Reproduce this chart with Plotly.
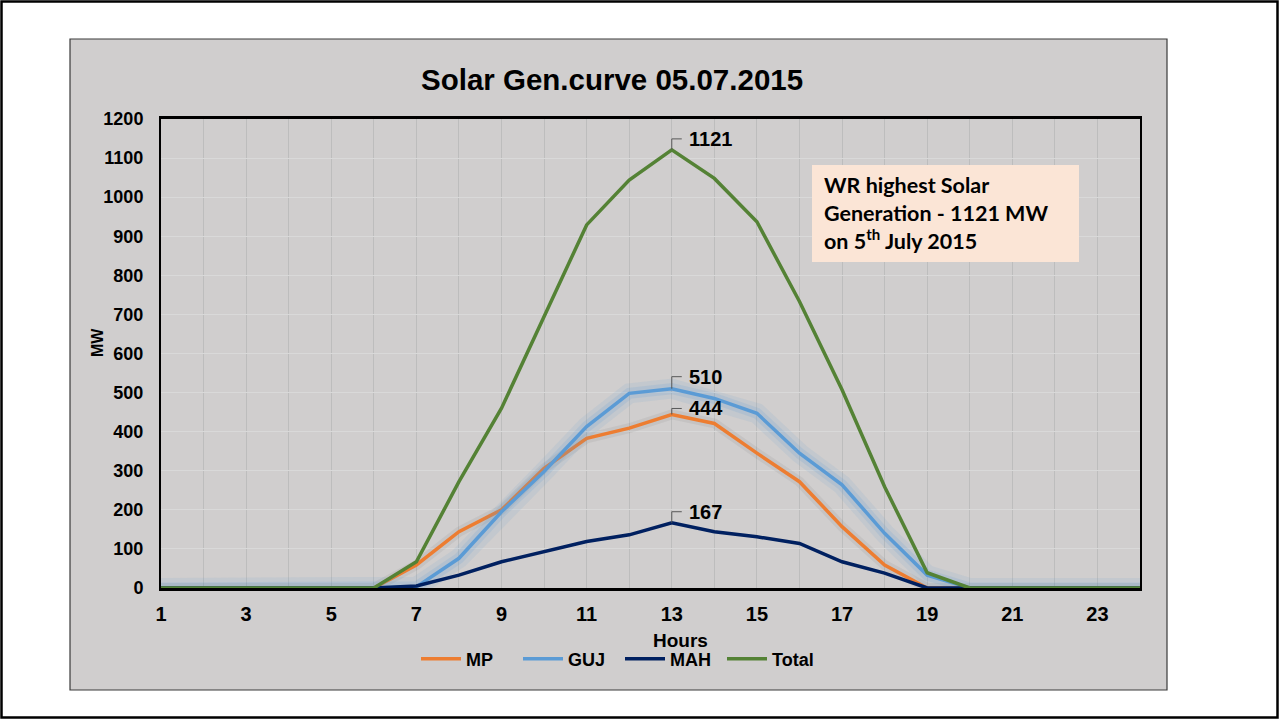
import plotly.graph_objects as go

hours = list(range(1, 25))
mp    = [0, 0, 0, 0, 0, 0, 59, 144, 200, 306, 383, 409, 444, 421, 345, 272, 157, 59, 0, 0, 0, 0, 0, 0]
guj   = [0, 0, 0, 0, 0, 0, 3, 76, 195, 298, 413, 498, 510, 485, 447, 345, 264, 140, 33, 0, 0, 0, 0, 0]
mah   = [0, 0, 0, 0, 0, 0, 5, 33, 67, 93, 119, 136, 167, 144, 131, 114, 67, 38, 0, 0, 0, 0, 0, 0]
total = [0, 0, 0, 0, 0, 0, 67, 272, 460, 694, 929, 1044, 1121, 1048, 937, 733, 507, 259, 39, 0, 0, 0, 0, 0]

x_ticks = [1, 3, 5, 7, 9, 11, 13, 15, 17, 19, 21, 23]
y_ticks = list(range(0, 1201, 100))

W, H = 1279, 719
L, R, T, B = 161, 1140, 119, 588


def px(xp):
    return (xp - L) / (R - L)


def py(yp):
    return (B - yp) / (B - T)


C_MP, C_GUJ, C_MAH, C_TOT = "#ED7D31", "#5B9BD5", "#002060", "#548235"
FONT = "Liberation Sans, Arial"

fig = go.Figure()
# MP soft shadow + line
fig.add_trace(go.Scatter(x=hours, y=mp, mode="lines", line=dict(color="rgba(0,0,0,0.05)", width=10),
                         showlegend=False, hoverinfo="skip"))
fig.add_trace(go.Scatter(x=hours, y=mp, name="MP", mode="lines", line=dict(color=C_MP, width=3.5)))
# GUJ glow + line
fig.add_trace(go.Scatter(x=hours, y=guj, mode="lines", line=dict(color="rgba(91,155,213,0.11)", width=20),
                         showlegend=False, hoverinfo="skip"))
fig.add_trace(go.Scatter(x=hours, y=guj, mode="lines", line=dict(color="rgba(91,155,213,0.16)", width=11),
                         showlegend=False, hoverinfo="skip"))
fig.add_trace(go.Scatter(x=hours, y=guj, name="GUJ", mode="lines", line=dict(color=C_GUJ, width=3.5)))
fig.add_trace(go.Scatter(x=hours, y=mah, name="MAH", mode="lines", line=dict(color=C_MAH, width=3.5)))
fig.add_trace(go.Scatter(x=hours, y=total, name="Total", mode="lines", line=dict(color=C_TOT, width=3.5)))

shapes = [
    # slide frame
    dict(type="rect", xref="paper", yref="paper", x0=px(1.5), x1=px(1277.5), y0=py(717.5), y1=py(1.5),
         line=dict(color="black", width=2.5), fillcolor="white", layer="below"),
    # chart area
    dict(type="rect", xref="paper", yref="paper", x0=px(70), x1=px(1167), y0=py(690), y1=py(39),
         line=dict(color="#3a3a3a", width=1.2), fillcolor="#D0CECE", layer="below"),
    # annotation box
    dict(type="rect", xref="paper", yref="paper", x0=px(812), x1=px(1079), y0=py(262), y1=py(165),
         line=dict(width=0), fillcolor="#FBE5D6", layer="above"),
]

# data labels at peaks with leader lines
peak_i = hours.index(13)
labels = [(total[peak_i], 11), (guj[peak_i], 12), (mp[peak_i], 6), (mah[peak_i], 11)]
annotations = []
for val, up in labels:
    shapes.append(dict(type="path", xref="x", yref="y", xsizemode="pixel", ysizemode="pixel",
                       xanchor=13, yanchor=val, path=f"M0,0 L0,{up} L10,{up}",
                       line=dict(color="#595959", width=1)))
    annotations.append(dict(x=13, y=val, xref="x", yref="y", text=f"<b>{val}</b>", showarrow=False,
                            xanchor="left", yanchor="middle", xshift=15, yshift=up,
                            font=dict(family=FONT, size=20, color="black")))

annotations += [
    dict(x=px(612), y=py(79), xref="paper", yref="paper", text="<b>Solar Gen.curve 05.07.2015</b>",
         showarrow=False, xanchor="center", yanchor="middle",
         font=dict(family=FONT, size=29.5, color="black")),
    dict(x=px(822), y=py(213), xref="paper", yref="paper",
         text="<b>WR highest Solar<br>Generation - 1121 MW<br>on 5<sup>th</sup> July 2015</b>",
         showarrow=False, xanchor="left", yanchor="middle", align="left",
         font=dict(family="Lato, Open Sans", size=21.5, color="black")),
    dict(x=px(97), y=py(343), xref="paper", yref="paper", text="<b>MW</b>", textangle=-90,
         showarrow=False, xanchor="center", yanchor="middle",
         font=dict(family=FONT, size=16, color="black")),
    dict(x=px(680), y=py(640), xref="paper", yref="paper", text="<b>Hours</b>",
         showarrow=False, xanchor="center", yanchor="middle",
         font=dict(family=FONT, size=19, color="black")),
]

fig.update_layout(
    width=W, height=H,
    margin=dict(l=L, r=W - R, t=T, b=H - B, autoexpand=False),
    paper_bgcolor="white",
    plot_bgcolor="#E6E6E6",
    shapes=shapes,
    annotations=annotations,
    font=dict(family=FONT, color="black"),
    showlegend=True,
    legend=dict(orientation="h", x=px(416), y=py(659), xanchor="left", yanchor="middle",
                bgcolor="rgba(0,0,0,0)", font=dict(size=18, family=FONT, weight="bold"),
                itemwidth=40, entrywidth=47, entrywidthmode="pixels"),
)
fig.update_xaxes(
    range=[1, 24], tickvals=x_ticks,
    tickfont=dict(size=20, weight="bold"), ticks="", ticklabelstandoff=6,
    showgrid=True, gridcolor="#BDBDBD", gridwidth=1,
    minor=dict(dtick=1, tick0=0, showgrid=True, gridcolor="#BDBDBD", gridwidth=1),
    showline=True, linecolor="black", linewidth=2.5, mirror=True, zeroline=False,
)
fig.update_yaxes(
    range=[0, 1200], tickvals=y_ticks,
    tickfont=dict(size=18, weight="bold"), ticks="", ticklabelstandoff=12,
    showgrid=True, gridcolor="#D9D9D9", gridwidth=1,
    showline=True, linecolor="black", linewidth=2, mirror=True, zeroline=False,
)

fig.write_html("out.html", config={"displayModeBar": False},
               post_script="document.body.style.margin='0';document.body.style.overflow='hidden';")
